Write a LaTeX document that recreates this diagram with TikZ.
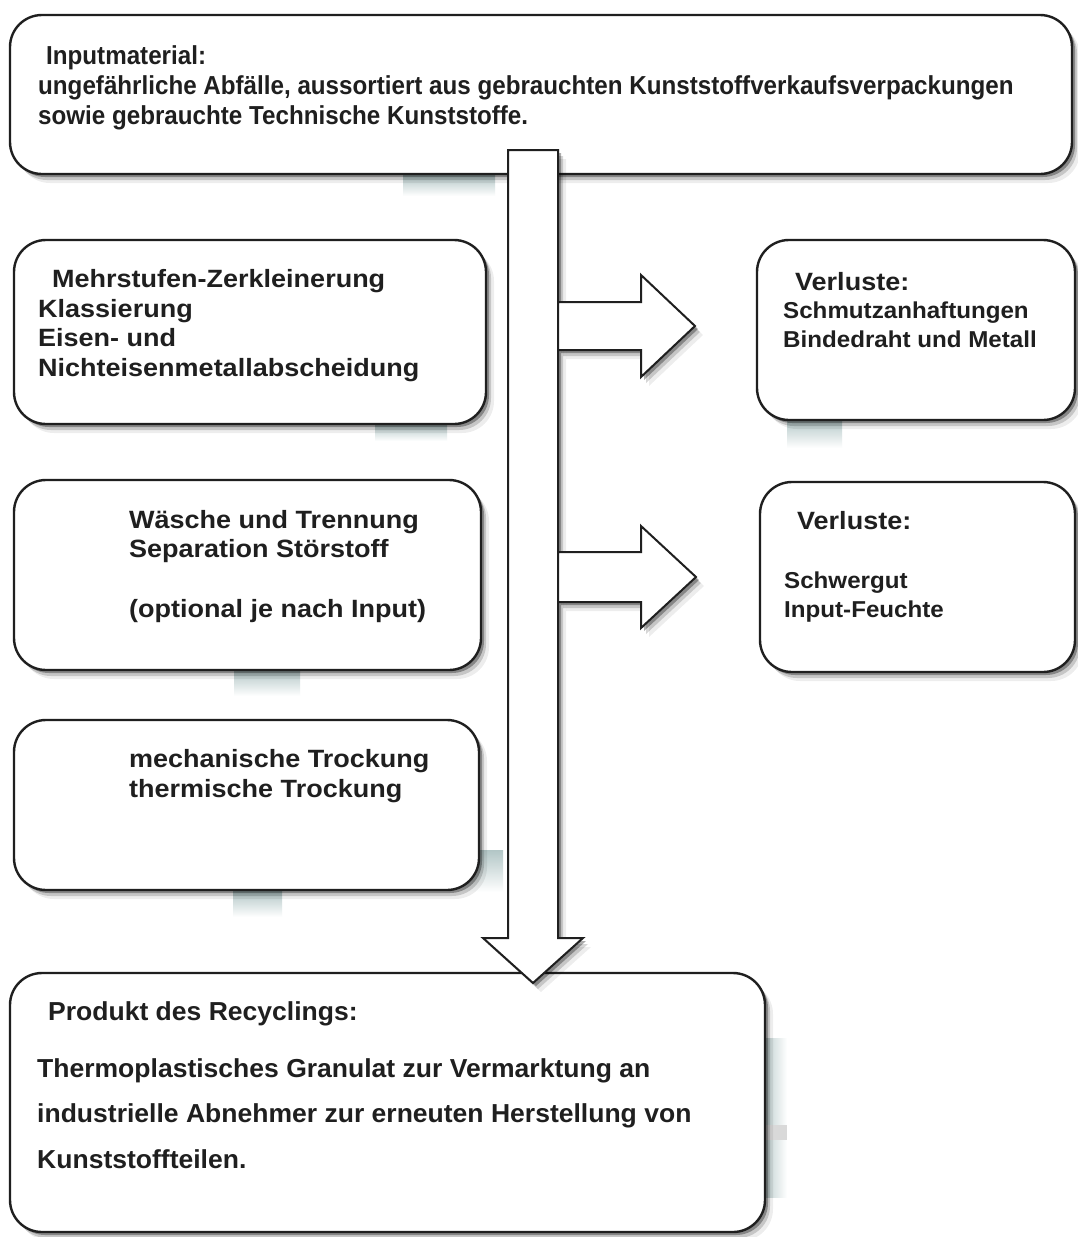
\documentclass[tikz,border=0pt]{standalone}
\usepackage{fontspec}
\setmainfont{Liberation Sans}
\newfontfamily\topfont[FakeStretch=0.93]{Liberation Sans}
\newfontfamily\midfont[FakeStretch=1.08]{Liberation Sans}
\newfontfamily\lossfont[FakeStretch=1.05]{Liberation Sans}
\newfontfamily\botfont[FakeStretch=1.02]{Liberation Sans}
\usetikzlibrary{shadows}

\definecolor{scanteal}{RGB}{178,198,198}
\definecolor{inkgray}{gray}{0.12}

\tikzset{
  softshadow/.style={
    general shadow={shadow xshift=3pt, shadow yshift=-3pt, fill=black, opacity=.32},
    general shadow={shadow xshift=5pt, shadow yshift=-6pt, fill=black, opacity=.16},
    general shadow={shadow xshift=8pt, shadow yshift=-9pt, fill=black, opacity=.07}},
  stagebox/.style={draw=inkgray, line width=2.4pt, fill=white, rounded corners=32pt,
    softshadow, inner sep=0pt},
  blockarrow/.style={draw=inkgray, line width=2pt, fill=white, line join=miter, softshadow},
  % anchored at the baseline of the last line
  boxtext/.style={anchor=base west, align=left, inner sep=0pt, text=inkgray},
  inputlabel/.style={boxtext, font={\fontsize{26}{30}\topfont\bfseries}},
  stagelabel/.style={boxtext, font={\fontsize{25}{29.5}\midfont\bfseries}},
  losslabel/.style={boxtext, font={\fontsize{23}{28.5}\lossfont\bfseries}},
  productlabel/.style={boxtext, font={\fontsize{26}{45.5}\botfont\bfseries}},
  artefact/.style={top color=scanteal, bottom color=white, draw=none},
}

\begin{document}
\begin{tikzpicture}[x=1pt,y=-1pt]
\useasboundingbox (0,0) rectangle (1077,1237);
\fill[white] (0,0) rectangle (1077,1237);

% scan patches
\fill[artefact] (403,175) rectangle (495,196);
\fill[artefact] (375,424) rectangle (447,441);
\fill[artefact] (787,419) rectangle (842,448);
\fill[artefact] (234,670) rectangle (300,696);
\fill[artefact] (233,891) rectangle (282,917);
\fill[artefact] (462,850) rectangle (503,892);
\fill[left color=scanteal, right color=white] (760,1038) rectangle (787,1197);
\fill[black!15] (760,1125) rectangle (787,1140);

% boxes
\node[stagebox, minimum width=1062pt, minimum height=159pt] (inputbox) at (541,94.5) {};
\node[stagebox, minimum width=472pt, minimum height=184pt] (shredbox) at (250,332) {};
\node[stagebox, minimum width=318pt, minimum height=180pt] (loss1box) at (916,330) {};
\node[stagebox, minimum width=467pt, minimum height=190pt] (washbox) at (247.5,575) {};
\node[stagebox, minimum width=315pt, minimum height=190pt] (loss2box) at (917.5,577) {};
\node[stagebox, minimum width=465pt, minimum height=170pt] (drybox) at (246.5,805) {};
\node[stagebox, minimum width=755pt, minimum height=259pt] (productbox) at (387.5,1102.5) {};

% main flow
\coordinate (flowtop) at (533,150);
\draw[blockarrow] (flowtop) +(-25,0) -- +(25,0) -- +(25,788) -- +(50,788) -- +(0,833)
  -- +(-50,788) -- +(-25,788) -- cycle;

% losses
\coordinate (loss1root) at (558,326);
\draw[blockarrow] (loss1root) +(0,-24) -- +(83,-24) -- +(83,-51) -- +(137,0) -- +(83,51)
  -- +(83,24) -- +(0,24) -- cycle;
\coordinate (loss2root) at (558,577);
\draw[blockarrow] (loss2root) +(0,-25) -- +(83,-25) -- +(83,-51) -- +(138,0) -- +(83,51)
  -- +(83,25) -- +(0,25) -- cycle;

% texts
\node[inputlabel] (inputtext) at (38,124) {\hspace*{8pt}Inputmaterial:\\
  ungefährliche Abfälle, aussortiert aus gebrauchten Kunststoffverkaufsverpackungen\\
  sowie gebrauchte Technische Kunststoffe.};
\node[stagelabel] (shredtext) at (38,376) {\hspace*{14pt}Mehrstufen-Zerkleinerung\\
  Klassierung\\Eisen- und\\Nichteisenmetallabscheidung};
\node[losslabel] (loss1text) at (783,347) {\hspace*{12pt}{\fontsize{25}{29}\midfont Verluste:}\\
  Schmutzanhaftungen\\Bindedraht und Metall};
\node[stagelabel] (washtext) at (129,617) {Wäsche und Trennung\\
  Separation Störstoff\\[30pt](optional je nach Input)};
\node[losslabel] (loss2text) at (784,617) {\hspace*{13pt}{\fontsize{25}{29}\midfont Verluste:}\\[31pt]
  Schwergut\\Input-Feuchte};
\node[stagelabel] (drytext) at (129,797) {mechanische Trockung\\thermische Trockung};
\node[productlabel] (producttext) at (37,1168) {\hspace*{11pt}Produkt des Recyclings:\\[11pt]
  Thermoplastisches Granulat zur Vermarktung an\\
  industrielle Abnehmer zur erneuten Herstellung von\\
  Kunststoffteilen.};
\end{tikzpicture}
\end{document}
